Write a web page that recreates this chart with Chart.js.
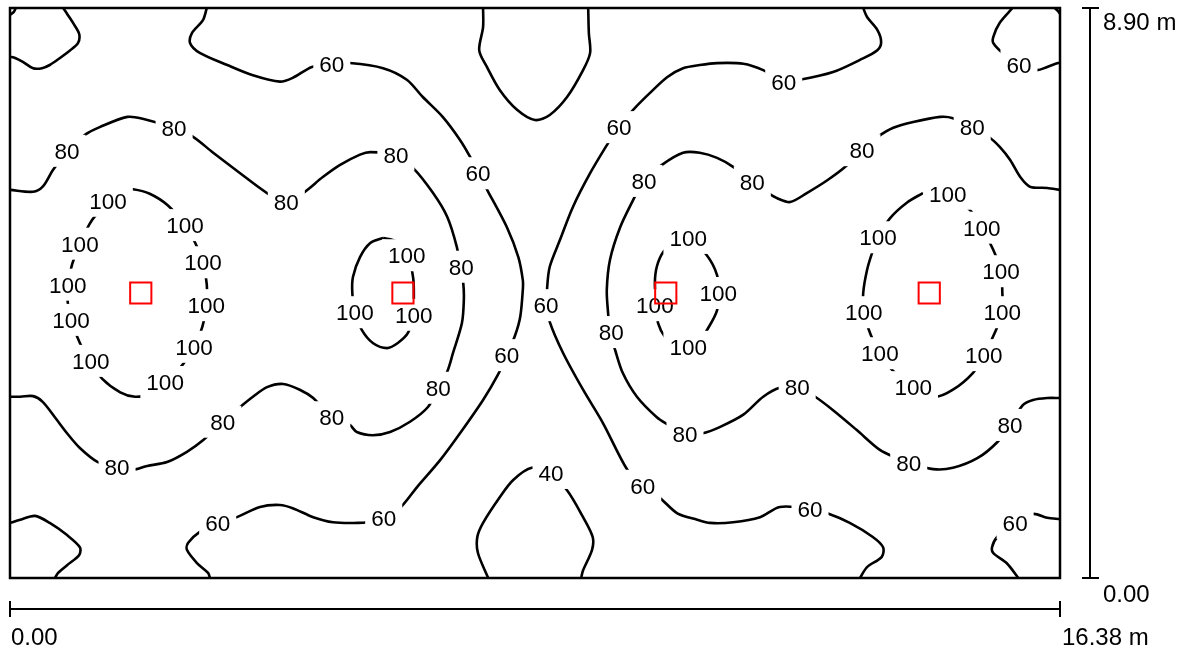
<!DOCTYPE html>
<html>
<head>
<meta charset="utf-8">
<title>Isolinien</title>
<script src="https://cdn.jsdelivr.net/npm/chart.js@4.4.1/dist/chart.umd.min.js"></script>
<style>
  html, body { margin: 0; padding: 0; background: #fff; }
  #wrap { width: 1184px; height: 649px; }
</style>
</head>
<body>
<div id="wrap"><canvas id="c" width="1184" height="649"></canvas></div>
<script>
// Room extent in metres
const xRange = [0, 16.38];
const yRange = [0, 8.90];
const xTickLabels = ['0.00', '16.38 m'];
const yTickLabels = ['0.00', '8.90 m'];

// Luminaire positions (m)
const lumX = [2.04, 6.13, 10.23, 14.34];
const lumY = [4.45, 4.45, 4.45, 4.45];

// Isolines, [x, y] in metres
const iso60_cornerTL = [[0, 8.79], [0.06, 8.84], [0.09, 8.90]];
const iso60_topLeft = [[0.83, 8.90], [0.89, 8.81], [1.00, 8.64], [1.08, 8.49], [1.06, 8.35], [0.94, 8.24], [0.78, 8.12], [0.62, 8.01], [0.50, 7.96], [0.36, 7.96], [0.20, 8.06], [0.08, 8.12], [0, 8.14]];
const iso60_left = [[3.07, 8.90], [3.01, 8.71], [2.84, 8.51], [2.81, 8.35], [2.96, 8.20], [3.39, 8.01], [3.79, 7.85], [4.21, 7.75], [4.41, 7.81], [4.71, 7.98], [5.02, 8.03], [5.30, 8.04], [5.82, 7.96], [6.19, 7.78], [6.44, 7.51], [6.75, 7.20], [7.02, 6.84], [7.18, 6.57], [7.30, 6.32], [7.46, 6.03], [7.75, 5.48], [7.93, 5.01], [8.00, 4.65], [8.00, 4.50], [7.96, 4.08], [7.88, 3.79], [7.75, 3.48], [7.61, 3.17], [7.38, 2.78], [7.02, 2.26], [6.71, 1.84], [6.35, 1.42], [6.08, 1.09], [5.82, 0.94], [5.57, 0.87], [5.43, 0.86], [5.04, 0.87], [4.73, 0.95], [4.41, 1.09], [4.21, 1.14], [3.90, 1.11], [3.54, 0.95], [3.24, 0.86], [2.96, 0.72], [2.78, 0.55], [2.76, 0.44], [2.92, 0.23], [3.09, 0.08], [3.12, 0]];
const iso60_cornerBL = [[0, 0.86], [0.16, 0.91], [0.39, 0.97], [0.62, 0.86], [0.89, 0.67], [1.09, 0.48], [1.08, 0.36], [0.89, 0.20], [0.75, 0.08], [0.70, 0]];
const iso40_top = [[7.38, 8.90], [7.38, 8.60], [7.32, 8.24], [7.44, 7.98], [7.64, 7.62], [7.91, 7.31], [8.19, 7.15], [8.42, 7.23], [8.69, 7.51], [8.94, 7.93], [9.05, 8.20], [9.03, 8.51], [9.02, 8.90]];
const iso40_bottom = [[7.46, 0], [7.30, 0.39], [7.29, 0.64], [7.38, 0.86], [7.64, 1.26], [7.85, 1.53], [8.14, 1.72], [8.42, 1.64], [8.69, 1.37], [8.94, 0.95], [9.09, 0.64], [9.08, 0.44], [8.94, 0.12], [8.91, 0]];
const iso60_right = [[13.31, 8.90], [13.37, 8.76], [13.53, 8.56], [13.59, 8.37], [13.53, 8.24], [13.26, 8.09], [12.84, 7.90], [12.32, 7.78], [12.06, 7.76], [11.75, 7.93], [11.44, 8.03], [11.03, 8.04], [10.76, 8.01], [10.50, 7.96], [10.25, 7.82], [9.98, 7.57], [9.75, 7.34], [9.49, 7.04], [9.33, 6.79], [9.05, 6.32], [8.78, 5.79], [8.58, 5.28], [8.42, 4.86], [8.38, 4.54], [8.38, 4.26], [8.42, 4.00], [8.63, 3.51], [8.94, 2.94], [9.25, 2.42], [9.63, 1.69], [9.87, 1.44], [10.14, 1.25], [10.41, 1.01], [10.72, 0.91], [10.92, 0.86], [11.28, 0.87], [11.70, 0.95], [12.01, 1.11], [12.48, 1.08], [12.75, 1.01], [13.10, 0.86], [13.46, 0.64], [13.62, 0.48], [13.60, 0.33], [13.37, 0.17], [13.26, 0]];
const iso60_cornerTR = [[16.30, 8.90], [16.35, 8.85], [16.38, 8.81]];
const iso60_topRight = [[15.64, 8.90], [15.44, 8.67], [15.34, 8.45], [15.34, 8.35], [15.48, 8.20], [15.73, 8.01], [16.02, 7.93], [16.18, 7.98], [16.35, 8.04], [16.38, 8.04]];
const iso60_bottomRight = [[16.38, 0.92], [16.18, 0.94], [15.96, 1.00], [15.68, 0.86], [15.40, 0.64], [15.32, 0.48], [15.34, 0.39], [15.55, 0.23], [15.73, 0]];
const iso80_left = [[0, 6.06], [0.36, 6.03], [0.51, 6.11], [0.67, 6.37], [0.89, 6.65], [1.17, 6.92], [1.40, 7.04], [1.83, 7.20], [2.07, 7.17], [2.54, 7.03], [2.84, 6.90], [3.17, 6.64], [3.59, 6.32], [4.01, 6.01], [4.29, 5.87], [4.57, 6.01], [4.88, 6.26], [5.15, 6.45], [5.46, 6.61], [5.62, 6.65], [6.01, 6.61], [6.29, 6.40], [6.60, 6.01], [6.82, 5.64], [6.97, 5.17], [7.02, 4.86], [7.07, 4.61], [7.08, 4.34], [7.05, 3.98], [6.91, 3.51], [6.82, 3.22], [6.68, 2.97], [6.52, 2.67], [6.24, 2.44], [5.93, 2.28], [5.66, 2.23], [5.41, 2.28], [5.30, 2.39], [5.02, 2.51], [4.73, 2.81], [4.52, 2.94], [4.26, 3.03], [4.01, 2.98], [3.79, 2.83], [3.59, 2.67], [3.32, 2.44], [3.01, 2.15], [2.76, 1.97], [2.45, 1.81], [2.14, 1.75], [1.92, 1.69], [1.67, 1.73], [1.37, 1.81], [1.09, 2.03], [0.89, 2.26], [0.70, 2.51], [0.51, 2.75], [0.36, 2.84], [0.16, 2.83], [0, 2.83]];
const iso80_right = [[16.38, 6.06], [16.18, 6.09], [15.91, 6.11], [15.76, 6.26], [15.60, 6.53], [15.44, 6.73], [15.29, 6.87], [15.01, 7.03], [14.71, 7.18], [14.51, 7.20], [14.09, 7.12], [13.78, 7.03], [13.54, 6.89], [13.29, 6.68], [13.03, 6.42], [12.75, 6.21], [12.43, 6.01], [12.17, 5.87], [11.97, 5.93], [11.83, 6.01], [11.58, 6.17], [11.28, 6.42], [11.03, 6.56], [10.76, 6.64], [10.50, 6.64], [10.17, 6.45], [9.87, 6.18], [9.72, 5.90], [9.52, 5.48], [9.36, 4.97], [9.31, 4.50], [9.33, 4.14], [9.36, 3.84], [9.44, 3.56], [9.56, 3.20], [9.78, 2.83], [10.09, 2.51], [10.27, 2.39], [10.53, 2.23], [10.81, 2.26], [11.08, 2.36], [11.44, 2.55], [11.75, 2.83], [12.01, 2.97], [12.28, 2.98], [12.56, 2.83], [12.84, 2.62], [13.21, 2.31], [13.57, 2.00], [13.84, 1.87], [14.04, 1.80], [14.40, 1.70], [14.71, 1.72], [15.09, 1.87], [15.40, 2.12], [15.60, 2.39], [15.80, 2.70], [15.96, 2.78], [16.18, 2.81], [16.38, 2.81]];
const iso100_a = [[1.72, 6.07], [1.92, 6.07], [2.18, 6.00], [2.46, 5.82], [2.73, 5.51], [2.89, 5.23], [3.01, 4.92], [3.07, 4.58], [3.06, 4.26], [3.00, 3.92], [2.87, 3.61], [2.70, 3.34], [2.42, 3.04], [2.15, 2.87], [1.95, 2.83], [1.72, 2.90], [1.44, 3.11], [1.26, 3.37], [1.09, 3.67], [0.95, 4.03], [0.90, 4.31], [0.90, 4.58], [0.97, 4.90], [1.09, 5.22], [1.28, 5.59], [1.53, 5.87], [1.72, 6.07]];
const iso100_b = [[5.82, 5.31], [5.62, 5.23], [5.46, 5.01], [5.35, 4.70], [5.34, 4.45], [5.38, 4.15], [5.49, 3.87], [5.66, 3.67], [5.88, 3.59], [6.05, 3.67], [6.21, 3.83], [6.29, 4.11], [6.30, 4.42], [6.29, 4.68], [6.21, 5.04], [6.02, 5.26], [5.82, 5.31]];
const iso100_c = [[10.37, 5.26], [10.19, 5.09], [10.09, 4.86], [10.06, 4.61], [10.08, 4.26], [10.11, 3.98], [10.22, 3.76], [10.37, 3.64], [10.58, 3.61], [10.76, 3.72], [10.89, 3.90], [11.03, 4.18], [11.05, 4.45], [11.03, 4.73], [10.87, 5.04], [10.58, 5.31], [10.37, 5.26]];
const iso100_d = [[14.24, 6.01], [14.63, 6.00], [14.98, 5.74], [15.16, 5.47], [15.34, 5.12], [15.46, 4.79], [15.48, 4.47], [15.48, 4.15], [15.38, 3.87], [15.19, 3.47], [15.02, 3.20], [14.71, 2.94], [14.43, 2.83], [14.09, 2.98], [13.76, 3.25], [13.57, 3.51], [13.43, 3.79], [13.32, 4.15], [13.31, 4.45], [13.37, 4.81], [13.45, 5.08], [13.54, 5.32], [13.73, 5.62], [13.99, 5.86], [14.24, 6.01]];

// Label anchor points on the isolines (m)
const labels40 = [[8.44, 1.64]];
const labels60 = [[5.02, 8.03], [7.30, 6.32], [7.75, 3.48], [5.83, 0.94], [3.24, 0.86], [12.07, 7.75], [9.50, 7.04], [8.36, 4.26], [9.87, 1.44], [12.48, 1.08], [15.74, 8.01], [15.68, 0.86]];
const labels80 = [[0.89, 6.67], [2.56, 7.03], [4.31, 5.87], [6.02, 6.61], [7.04, 4.86], [6.68, 2.97], [5.02, 2.51], [3.32, 2.44], [1.67, 1.73], [15.01, 7.04], [13.29, 6.68], [11.58, 6.18], [9.89, 6.20], [9.38, 3.84], [10.53, 2.25], [12.28, 2.98], [14.02, 1.80], [15.60, 2.39]];
const labels100 = [[1.53, 5.89], [2.73, 5.51], [3.01, 4.93], [3.06, 4.26], [2.87, 3.61], [2.42, 3.06], [1.26, 3.39], [0.95, 4.03], [0.90, 4.58], [1.09, 5.22], [6.19, 5.04], [5.38, 4.15], [6.30, 4.11], [10.58, 5.31], [11.05, 4.45], [10.58, 3.61], [10.06, 4.26], [14.63, 6.00], [15.16, 5.47], [15.46, 4.79], [15.48, 4.15], [15.19, 3.48], [14.09, 2.98], [13.57, 3.51], [13.32, 4.15], [13.54, 5.32]];

const isolines = [
  { level: 60, pts: iso60_cornerTL },
  { level: 60, pts: iso60_topLeft },
  { level: 60, pts: iso60_left },
  { level: 60, pts: iso60_cornerBL },
  { level: 40, pts: iso40_top },
  { level: 40, pts: iso40_bottom },
  { level: 60, pts: iso60_right },
  { level: 60, pts: iso60_cornerTR },
  { level: 60, pts: iso60_topRight },
  { level: 60, pts: iso60_bottomRight },
  { level: 80, pts: iso80_left },
  { level: 80, pts: iso80_right },
  { level: 100, pts: iso100_a },
  { level: 100, pts: iso100_b },
  { level: 100, pts: iso100_c },
  { level: 100, pts: iso100_d }
];
const labelSets = [
  { level: 40, pts: labels40 },
  { level: 60, pts: labels60 },
  { level: 80, pts: labels80 },
  { level: 100, pts: labels100 }
];

const LABEL_FONT = '22.5px "Liberation Sans", Arial, Helvetica, sans-serif';
const AXIS_FONT = '24px "Liberation Sans", Arial, Helvetica, sans-serif';

// Level labels: white knock-out boxes, then the numbers, just before the luminaires are drawn
const isoLabels = {
  id: 'isoLabels',
  beforeDatasetDraw(chart, args) {
    if (!chart.data.datasets[args.index].isLuminaire) return;
    const { ctx, scales: { x, y } } = chart;
    const items = [];
    labelSets.forEach(s => s.pts.forEach(([vx, vy]) => {
      items.push({ t: String(s.level), px: x.getPixelForValue(vx), py: y.getPixelForValue(vy) });
    }));
    ctx.save();
    ctx.font = LABEL_FONT;
    ctx.fillStyle = '#ffffff';
    items.forEach(it => {
      const w = ctx.measureText(it.t).width + 12;
      ctx.fillRect(it.px - w / 2, it.py - 16, w, 32);
    });
    ctx.fillStyle = '#000000';
    ctx.textAlign = 'center';
    ctx.textBaseline = 'alphabetic';
    items.forEach(it => ctx.fillText(it.t, it.px, it.py + 8));
    ctx.restore();
  }
};

// Room outline and the two dimension lines
const dimensions = {
  id: 'dimensions',
  afterDraw(chart) {
    const { ctx, chartArea: a, scales: { x, y } } = chart;
    const x0 = x.getPixelForValue(xRange[0]);
    const x1 = x.getPixelForValue(xRange[1]);
    const y0 = y.getPixelForValue(yRange[0]);
    const y1 = y.getPixelForValue(yRange[1]);
    const seg = (ax, ay, bx, by) => { ctx.beginPath(); ctx.moveTo(ax, ay); ctx.lineTo(bx, by); ctx.stroke(); };
    ctx.save();
    ctx.strokeStyle = '#000';
    ctx.lineWidth = 2.5;
    ctx.strokeRect(a.left, a.top, a.right - a.left, a.bottom - a.top);
    ctx.lineWidth = 2;
    const by = a.bottom + 31;
    seg(x0, by, x1, by);
    seg(x0, by - 8, x0, by + 8);
    seg(x1, by - 8, x1, by + 8);
    const rx = a.right + 30;
    seg(rx, y1, rx, y0);
    seg(rx - 8, y1, rx + 9, y1);
    seg(rx - 8, y0, rx + 9, y0);
    ctx.fillStyle = '#000';
    ctx.font = AXIS_FONT;
    ctx.textAlign = 'left';
    ctx.textBaseline = 'alphabetic';
    ctx.fillText(xTickLabels[0], x0 + 1, by + 36);
    ctx.fillText(xTickLabels[1], x1 + 2, by + 36);
    ctx.fillText(yTickLabels[0], rx + 13, y0 + 24);
    ctx.fillText(yTickLabels[1], rx + 13, y1 + 22);
    ctx.restore();
  }
};

const datasets = isolines.map(c => ({
  label: c.level + ' lx',
  data: c.pts.map(([x, y]) => ({ x, y })),
  showLine: true,
  borderColor: '#000000',
  borderWidth: 2.6,
  pointRadius: 0,
  pointHoverRadius: 0,
  tension: 0.3,
  fill: false
}));
datasets.push({
  label: 'Leuchten',
  isLuminaire: true,
  data: lumX.map((x, i) => ({ x, y: lumY[i] })),
  showLine: false,
  pointStyle: 'rect',
  pointRadius: 15,
  pointHoverRadius: 15,
  pointBorderWidth: 2,
  pointBorderColor: '#ff0000',
  pointBackgroundColor: 'rgba(0,0,0,0)',
  order: -1
});

new Chart(document.getElementById('c'), {
  type: 'scatter',
  data: { datasets },
  options: {
    responsive: false,
    animation: false,
    events: [],
    layout: { autoPadding: false, padding: { left: 10, top: 8, right: 124, bottom: 71 } },
    scales: {
      x: { type: 'linear', min: xRange[0], max: xRange[1], display: false },
      y: { type: 'linear', min: yRange[0], max: yRange[1], display: false }
    },
    plugins: {
      legend: { display: false },
      tooltip: { enabled: false }
    }
  },
  plugins: [isoLabels, dimensions]
});
</script>
</body>
</html>
